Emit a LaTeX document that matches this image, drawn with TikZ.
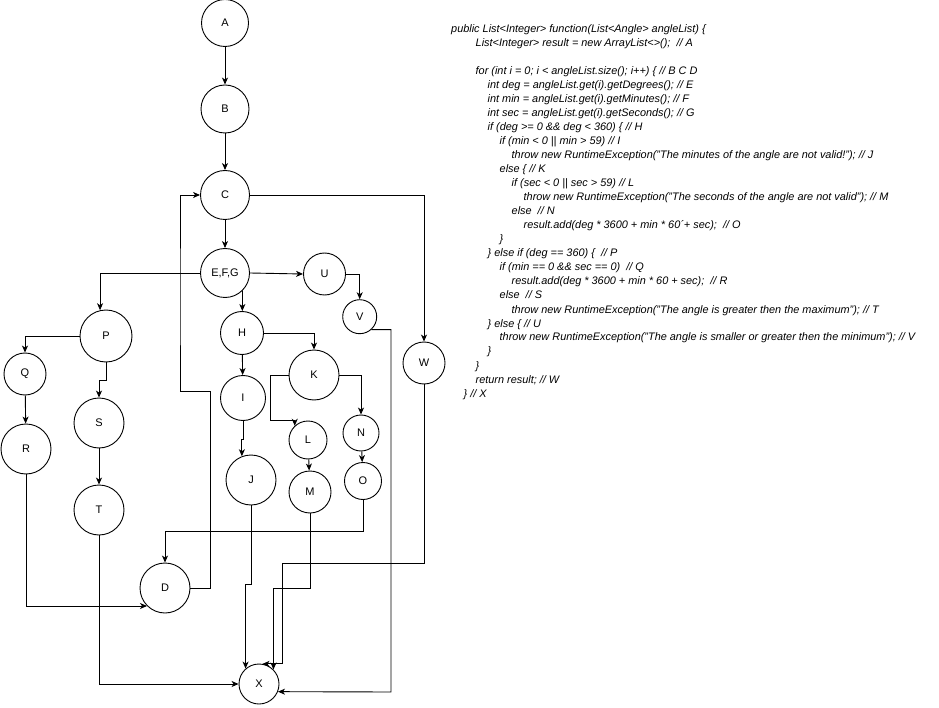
\documentclass[tikz,border=0pt]{standalone}
\usepackage{fontspec}
\setmainfont{Liberation Sans}
\usetikzlibrary{arrows.meta}
\begin{document}
\begin{tikzpicture}[x=1pt,y=-1pt,
  st/.style={draw,circle,inner sep=0pt,line width=0.9pt,font=\fontsize{11}{11}\selectfont},
  arr/.style={draw,line width=0.9pt,-{Stealth[length=7pt,width=6pt,inset=2pt]}},
  ln/.style={draw,line width=0.9pt},
  cd/.style={anchor=base west,inner sep=0pt,font=\fontsize{10.9}{10.9}\selectfont\itshape}]
\useasboundingbox (0,0) rectangle (939,708);
% nodes
\node[st,minimum size=47pt] (A) at (225,23) {A};
\node[st,minimum size=48pt] (B) at (225,109) {B};
\node[st,minimum size=49pt] (C) at (225,195) {C};
\node[st,minimum size=49pt] (EFG) at (225,273) {E,F,G};
\node[st,minimum size=42pt] (U) at (324.5,274) {U};
\node[st,minimum size=34pt] (V) at (359.7,316.7) {V};
\node[st,minimum size=43pt] (H) at (242,333) {H};
\node[st,minimum size=50pt] (K) at (314,375) {K};
\node[st,minimum size=45pt] (I) at (243,398) {I};
\node[st,minimum size=42pt] (W) at (424,363) {W};
\node[st,minimum size=52pt] (P) at (106,336) {P};
\node[st,minimum size=42pt] (Q) at (25,374) {Q};
\node[st,minimum size=38pt] (L) at (308,440) {L};
\node[st,minimum size=36pt] (N) at (361,433) {N};
\node[st,minimum size=50pt] (J) at (251,480) {J};
\node[st,minimum size=42pt] (M) at (310,492) {M};
\node[st,minimum size=37pt] (O) at (363,481) {O};
\node[st,minimum size=50pt] (R) at (26,449) {R};
\node[st,minimum size=50pt] (S) at (99,423) {S};
\node[st,minimum size=50pt] (T) at (99,510) {T};
\node[st,minimum size=50pt] (D) at (165,588) {D};
\node[st,minimum size=40pt] (X) at (259,684) {X};
% edges
\draw[arr] (A) -- (B);
\draw[arr] (B) -- (C);
\draw[arr] (C) -- (EFG);
\draw[arr] (C.east) -| (W.north);
\draw[arr] (EFG.east) -- (U.west);
\draw[arr] (EFG.west) -| (P.103);
\draw[arr] (EFG.-46) -- (EFG.-46 |- H.north);
\draw[arr] (H) -- (I);
\draw[arr] (H.east) -| (K.north);
\draw[arr] (P.west) -| (Q.north);
\draw[arr] (P.south) -- ++(0,18) -| (S.north);
\draw[arr] (Q) -- (R);
\draw[arr] (S) -- (T);
\draw[arr] (R.south) |- (D.-135);
\draw[arr] (T.south) |- (X.west);
\draw[arr] (D.east) -| (210,391) -| (180,300) |- (C.west);
\draw[arr] (I.south) -- ++(0,18) -| (J.111);
\draw[arr] (K.west) -| (270,420) -| (L.133);
\draw[arr] (K.east) -| (N.north);
\draw[arr] (L) -- (M);
\draw[arr] (N) -- (O);
\draw[arr] (O.south) -- ++(0,31) -| (D.north);
\draw[arr] (J.south) -- ++(0,79) -| (X.131);
\draw[arr] (M.south) -- ++(0,75) -| (X.45);
\draw[arr] (W.south) |- (282,563) |- (X.80);
\draw[arr] (U.east) -| (V.north);
\draw[arr] (V.-48) -| (391,692) -- (X.-22);
% code
\node[cd] (c1) at (451,33) {public List<Integer> function(List<Angle> angleList) \{};
\node[cd] (c2) at (475.5,47) {List<Integer> result = new ArrayList<>();\ \ // A};
\node[cd] (c4) at (475.5,75) {for (int i = 0; i < angleList.size(); i++) \{ // B C D};
\node[cd] (c5) at (487.5,89) {int deg = angleList.get(i).getDegrees(); // E};
\node[cd] (c6) at (487.5,103) {int min = angleList.get(i).getMinutes(); // F};
\node[cd] (c7) at (487.5,117) {int sec = angleList.get(i).getSeconds(); // G};
\node[cd] (c8) at (487.5,131) {if (deg >= 0 \&\& deg < 360) \{ // H};
\node[cd] (c9) at (499.5,145) {if (min < 0 || min > 59) // I};
\node[cd] (c10) at (511.5,159) {throw new RuntimeException("The minutes of the angle are not valid!"); // J};
\node[cd] (c11) at (499.5,173) {else \{ // K};
\node[cd] (c12) at (511.5,187) {if (sec < 0 || sec > 59) // L};
\node[cd] (c13) at (523.5,201) {throw new RuntimeException("The seconds of the angle are not valid"); // M};
\node[cd] (c14) at (511.5,215) {else\ \ // N};
\node[cd] (c15) at (523.5,229) {result.add(deg * 3600 + min * 60\textasciiacute+ sec);\ \ // O};
\node[cd] (c16) at (499.5,243) {\}};
\node[cd] (c17) at (487.5,257) {\} else if (deg == 360) \{\ \ // P};
\node[cd] (c18) at (499.5,271) {if (min == 0 \&\& sec == 0)\ \ // Q};
\node[cd] (c19) at (511.5,285) {result.add(deg * 3600 + min * 60 + sec);\ \ // R};
\node[cd] (c20) at (499.5,299) {else\ \ // S};
\node[cd] (c21) at (511.5,313) {throw new RuntimeException("The angle is greater then the maximum"); // T};
\node[cd] (c22) at (487.5,327) {\} else \{ // U};
\node[cd] (c23) at (499.5,341) {throw new RuntimeException("The angle is smaller or greater then the minimum"); // V};
\node[cd] (c24) at (487.5,355) {\}};
\node[cd] (c25) at (475.5,369) {\}};
\node[cd] (c26) at (475.5,383) {return result; // W};
\node[cd] (c27) at (463.5,397) {\} // X};
\end{tikzpicture}
\end{document}
